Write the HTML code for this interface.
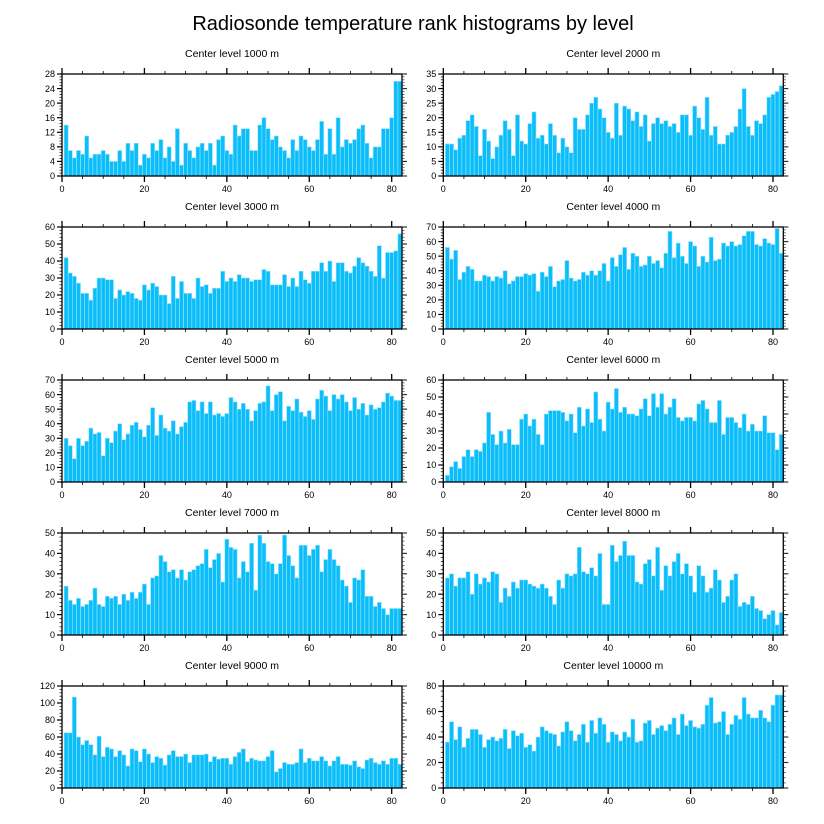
<!DOCTYPE html>
<html><head><meta charset="utf-8">
<style>
html,body{margin:0;padding:0;background:#fff;}
svg{display:block;font-family:"Liberation Sans",sans-serif;}
</style></head>
<body>
<svg id="chart" width="824" height="824" viewBox="0 0 824 824" xmlns="http://www.w3.org/2000/svg">
<text x="413" y="30" text-anchor="middle" font-size="20" fill="#000">Radiosonde temperature rank histograms by level</text>
</svg>
<script>
const levels = ["1000","2000","3000","4000","5000","6000","7000","8000","9000","10000"];
const yMaxes = [28,35,60,70,70,60,50,50,120,80];
const yStepMajor = [4,5,10,10,10,10,10,10,20,20];
const xTicks = [0,20,40,60,80];
const v1000 = [14,7,5,7,6,11,5,6,6,7,6,4,4,7,4,9,7,9,3,6,5,9,7,10,5,8,4,13,3,9,7,5,8,9,7,9,3,10,11,7,6,14,11,13,13,7,7,14,16,13,10,11,8,7,5,10,7,11,10,8,7,10,15,6,13,6,16,8,10,9,10,13,14,9,5,8,8,13,13,16,26,26];
const v2000 = [11,11,9,13,14,19,21,17,7,16,12,6,10,14,19,16,7,21,12,11,18,22,13,14,11,18,14,8,13,10,8,20,16,16,21,25,27,23,20,15,13,25,14,24,23,19,22,17,21,12,18,20,18,19,17,18,15,21,21,14,24,20,16,27,14,17,11,11,14,15,17,23,30,17,14,19,18,21,27,28,29,31];
const v3000 = [42,33,31,27,21,21,17,24,30,30,29,29,18,23,20,22,21,18,17,26,23,27,25,20,20,15,31,18,28,21,21,18,30,25,26,21,24,24,34,28,30,28,32,30,30,28,29,29,35,34,26,26,26,32,25,30,25,34,29,27,34,34,39,34,40,28,39,39,34,33,37,42,39,37,34,31,49,30,45,45,46,56];
const v4000 = [56,48,54,34,39,43,41,33,33,37,36,33,36,35,40,31,33,36,36,38,37,38,26,39,36,43,29,33,34,47,35,33,34,39,37,40,37,40,45,33,49,43,51,56,41,52,50,43,44,50,45,47,42,52,67,49,59,50,45,60,57,43,50,46,63,47,48,59,57,60,57,58,64,67,67,58,57,62,59,58,69,52];
const v5000 = [30,25,16,30,25,28,37,33,34,18,30,27,35,40,29,33,39,41,36,31,39,51,32,46,37,35,42,33,38,41,55,56,49,55,47,55,46,47,45,47,58,55,50,54,50,42,49,54,55,66,49,60,62,42,52,49,57,48,45,49,43,57,63,59,49,60,57,60,55,49,58,50,54,46,53,50,51,55,61,59,56,56];
const v6000 = [4,9,12,8,15,19,15,19,18,23,41,28,22,30,23,31,22,22,37,40,33,37,28,22,40,42,42,42,41,36,40,29,44,33,43,35,53,37,30,47,43,55,41,44,40,40,39,43,49,39,52,44,52,40,44,49,38,36,38,38,36,46,48,43,35,35,48,28,38,38,35,32,40,30,34,30,30,39,29,29,19,28];
const v7000 = [24,17,15,18,14,15,17,23,15,14,19,18,19,15,20,17,21,18,21,25,15,28,29,39,36,31,32,28,32,27,31,32,34,35,42,33,37,40,26,47,43,42,28,36,31,45,22,49,45,36,35,30,35,49,39,34,28,44,44,39,42,44,31,37,42,37,34,27,24,16,28,27,32,19,19,14,16,13,10,13,13,13];
const v8000 = [28,30,24,28,28,31,20,30,25,28,26,31,30,16,23,19,26,23,27,27,25,24,23,25,23,19,15,27,23,30,29,30,43,31,30,33,29,40,15,15,44,36,39,46,39,39,26,25,35,37,29,43,22,34,29,36,40,30,35,29,21,34,29,21,23,32,27,16,19,27,30,14,16,15,19,13,12,8,10,12,5,11];
const v9000 = [65,65,107,60,51,56,51,39,61,37,48,46,37,44,39,26,46,44,31,46,40,30,37,35,27,39,44,37,37,40,30,39,39,39,40,31,37,34,35,35,28,37,42,46,31,35,33,32,32,37,44,19,23,30,28,28,30,46,30,35,32,32,37,32,26,32,37,28,28,27,32,25,23,33,35,30,28,32,28,35,35,28];
const v10000 = [36,52,38,48,32,39,46,46,42,32,38,40,37,39,46,31,45,41,43,32,34,29,40,48,45,43,42,33,44,52,45,37,42,50,36,53,43,55,50,36,44,42,37,44,40,54,36,37,51,53,42,47,49,45,50,55,42,58,49,53,48,47,50,65,71,51,52,60,42,50,57,54,71,58,55,55,61,55,52,65,73,73];
const allSeries = [v1000,v2000,v3000,v4000,v5000,v6000,v7000,v8000,v9000,v10000];

const NS = "http://www.w3.org/2000/svg";
const svg = document.getElementById("chart");
function mk(tag, attrs, parent){
  const e = document.createElementNS(NS, tag);
  for (const k in attrs) e.setAttribute(k, attrs[k]);
  (parent||svg).appendChild(e);
  return e;
}
const colX = [62, 443.3];
const rowY = [74, 227, 380, 533, 686];
const W = 340, H = 102, XMAX = 82.5;

allSeries.forEach((vals, p) => {
  const x0 = colX[p % 2], y0 = rowY[Math.floor(p / 2)];
  const g = mk("g", {});
  
  
  const xs = v => x0 + v / XMAX * W;
  const ys = v => y0 + H - v / yMaxes[p] * H;
  const t = mk("text", {x: x0 + W/2, y: y0 - 17, "text-anchor": "middle", "font-size": "10.5", fill: "#000"}, g);
  t.textContent = "Center level " + levels[p] + " m";
  
  
  vals.forEach((v, i) => {
    const c = i + 1;
    const r = mk("rect", {x: xs(c - 0.5), y: ys(v), width: xs(c + 0.5) - xs(c - 0.5), height: ys(0) - ys(v), fill: "#0bbefa", stroke: "#9ee4fd", "stroke-width": "0.6"}, g);
    
    
  });
  // frame
  const f = mk("rect", {x: x0, y: y0, width: W, height: H, fill: "none", stroke: "#000", "stroke-width": "1.3"}, g);
  
  
  // x ticks
  for (let v = 0; v <= XMAX; v += 5) {
    const major = v % 20 === 0;
    const L = major ? 6 : 3;
    mk("line", {x1: xs(v), x2: xs(v), y1: y0 + H, y2: y0 + H + L, stroke: "#000", "stroke-width": major ? 1.3 : 0.8}, g);
    mk("line", {x1: xs(v), x2: xs(v), y1: y0, y2: y0 - L, stroke: "#000", "stroke-width": major ? 1.3 : 0.8}, g);
  }
  xTicks.forEach(v => {
    const tl = mk("text", {x: xs(v), y: y0 + H + 16, "text-anchor": "middle", "font-size": "9", fill: "#000"}, g);
    tl.textContent = v;
    
    
  });
  // y ticks
  const st = yStepMajor[p], minor = st / 5;
  for (let k = 0; k * minor <= yMaxes[p] + 1e-9; k++) {
    const v = k * minor;
    const major = k % 5 === 0;
    const L = major ? 5 : 2.5;
    mk("line", {x1: x0, x2: x0 - L, y1: ys(v), y2: ys(v), stroke: "#000", "stroke-width": major ? 1.2 : 0.7}, g);
    mk("line", {x1: x0 + W, x2: x0 + W + L, y1: ys(v), y2: ys(v), stroke: "#333", "stroke-width": major ? 1.2 : 0.7}, g);
  }
  for (let v = 0; v <= yMaxes[p] + 1e-9; v += st) {
    const tl = mk("text", {x: x0 - 7, y: ys(v) + 3.2, "text-anchor": "end", "font-size": "9", fill: "#000"}, g);
    tl.textContent = v;
    
    
  }
});
</script>
</body></html>
